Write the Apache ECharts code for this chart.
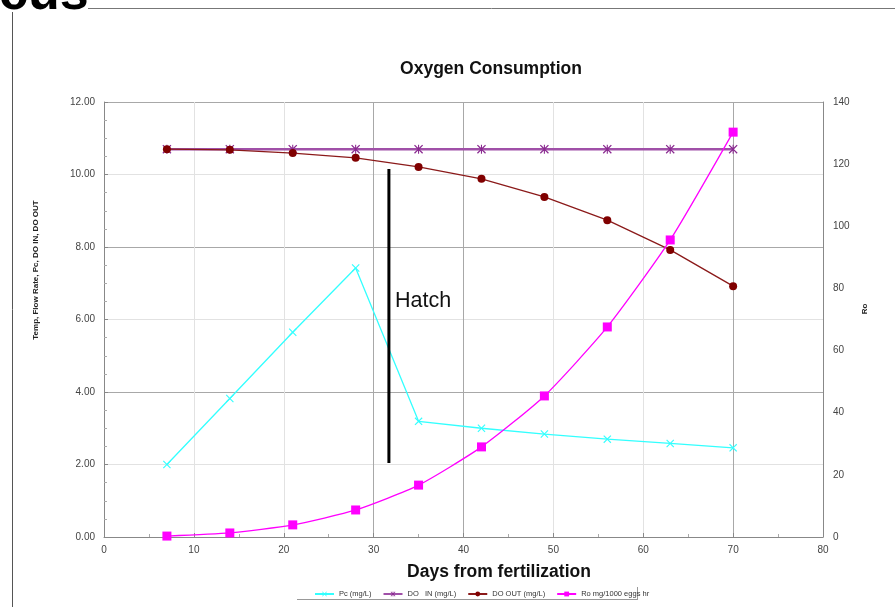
<!DOCTYPE html>
<html>
<head>
<meta charset="utf-8">
<script src="https://cdn.jsdelivr.net/npm/echarts@6/dist/echarts.min.js"></script>
<style>
html,body{margin:0;padding:0;background:#fff;}
#chart{width:895px;height:607px;}
</style>
</head>
<body>
<div id="chart"></div>
<script>
// ---- data ----
var days = [7, 14, 21, 28, 35, 42, 49, 56, 63, 70];
var pc = [2.00, 3.82, 5.65, 7.42, 3.19, 3.00, 2.84, 2.70, 2.58, 2.46];
var doIn = [10.70, 10.70, 10.70, 10.70, 10.70, 10.70, 10.70, 10.70, 10.70, 10.70];
var doOut = [10.70, 10.68, 10.59, 10.46, 10.21, 9.88, 9.38, 8.74, 7.92, 6.92];
var ro = [0.3, 1.3, 3.9, 8.7, 16.7, 29.0, 45.4, 67.6, 95.6, 130.3];
var hatchDay = 31.7;
var hatchRange = [2.04, 10.15];
var seriesNames = ['Pc (mg/L)', 'DO   IN (mg/L)', 'DO OUT (mg/L)', 'Ro mg/1000 eggs hr'];

function pairs(xs, ys) { return xs.map(function (x, i) { return [x, ys[i]]; }); }

var xMark = 'path://M0,1L1,0L5,4L9,0L10,1L6,5L10,9L9,10L5,6L1,10L0,9L4,5Z';
var starMark = 'path://M0,1L1,0L5,4L9,0L10,1L6,5L10,9L9,10L5,6L1,10L0,9L4,5Z M4.4,0L5.6,0L5.6,10L4.4,10Z';

var chart = echarts.init(document.getElementById('chart'), null, {renderer: 'canvas'});
var FF = 'Liberation Sans, Arial, sans-serif';
var lab = {color: '#444', fontSize: 10, fontFamily: FF};

chart.setOption({
  animation: false,
  backgroundColor: '#fff',
  grid: {left: 104, right: 72, top: 102, bottom: 70},
  legend: {
    data: seriesNames,
    left: 309, top: 585,
    itemWidth: 19, itemHeight: 6, itemGap: 11,
    textStyle: {fontSize: 7.5, color: '#333', fontFamily: FF}
  },
  xAxis: {
    type: 'value', min: 0, max: 80, interval: 10,
    axisLine: {lineStyle: {color: '#888'}},
    axisTick: {show: true, inside: true, length: 4, lineStyle: {color: '#888'}},
    minorTick: {show: true, splitNumber: 2, length: 3, lineStyle: {color: '#aaa'}},
    axisLabel: lab,
    splitLine: {show: true, lineStyle: {width: 1, color: ['#aaa', '#e2e2e2', '#e2e2e2', '#a8a8a8', '#a8a8a8', '#e2e2e2', '#e2e2e2', '#a8a8a8', '#a8a8a8']}}
  },
  yAxis: [{
    type: 'value', min: 0, max: 12, interval: 2,
    axisLine: {show: true, lineStyle: {color: '#888'}},
    axisTick: {show: true, inside: true, length: 4, lineStyle: {color: '#888'}},
    minorTick: {show: true, splitNumber: 4, length: 3, lineStyle: {color: '#aaa'}},
    axisLabel: Object.assign({formatter: function (v) { return v.toFixed(2); }, margin: 9}, lab),
    splitLine: {show: true, lineStyle: {width: 1, color: ['#a8a8a8', '#e2e2e2']}}
  }, {
    type: 'value', min: 0, max: 140, interval: 20,
    axisLine: {show: true, lineStyle: {color: '#888'}},
    axisTick: {show: false},
    axisLabel: Object.assign({margin: 10}, lab),
    splitLine: {show: false}
  }],
  series: [{
    name: seriesNames[0], type: 'line', data: pairs(days, pc),
    symbol: xMark, symbolSize: 8,
    lineStyle: {color: '#33ffff', width: 1.3},
    itemStyle: {color: '#33ffff'}
  }, {
    name: seriesNames[1], type: 'line', data: pairs(days, doIn),
    symbol: starMark, symbolSize: 9,
    lineStyle: {color: '#a050a8', width: 2.5},
    itemStyle: {color: '#8a2a90'}
  }, {
    name: seriesNames[2], type: 'line', data: pairs(days, doOut),
    symbol: 'circle', symbolSize: 8,
    lineStyle: {color: '#8b1a1a', width: 1.3},
    itemStyle: {color: '#800000'}
  }, {
    name: seriesNames[3], type: 'line', yAxisIndex: 1, data: pairs(days, ro),
    symbol: 'rect', symbolSize: 9, smooth: 0.2,
    lineStyle: {color: '#ff00ff', width: 1.3},
    itemStyle: {color: '#ff00ff'}
  }, {
    name: 'Hatch', type: 'line', silent: true,
    data: [[hatchDay, hatchRange[0]], [hatchDay, hatchRange[1]]],
    symbol: 'none', lineStyle: {color: '#000', width: 3}
  }],
  graphic: [
    {type: 'text', x: 491, y: 69, style: {text: 'Oxygen Consumption', fontSize: 17.5, fontWeight: 'bold', fill: '#111', fontFamily: FF, align: 'center', verticalAlign: 'middle'}},
    {type: 'text', x: 499, y: 572, style: {text: 'Days from fertilization', fontSize: 17.5, fontWeight: 'bold', fill: '#111', fontFamily: 'Liberation Sans Narrow, Arial Narrow, Liberation Sans, sans-serif', align: 'center', verticalAlign: 'middle'}},
    {type: 'text', x: 36, y: 270, rotation: Math.PI / 2, style: {text: 'Temp, Flow Rate, Pc, DO IN, DO OUT', fontSize: 8, fontWeight: 'bold', fill: '#222', fontFamily: FF, align: 'center', verticalAlign: 'middle'}},
    {type: 'text', x: 865, y: 309, rotation: Math.PI / 2, style: {text: 'Ro', fontSize: 8, fontWeight: 'bold', fill: '#222', fontFamily: FF, align: 'center', verticalAlign: 'middle'}},
    {type: 'text', x: 395, y: 301, style: {text: 'Hatch', fontSize: 21.5, fill: '#111', fontFamily: FF, verticalAlign: 'middle'}},
    {type: 'text', x: -1, y: -31, style: {text: 'cus', fontSize: 52, fontWeight: 'bold', fill: '#000', fontFamily: FF, verticalAlign: 'top'}},
    {type: 'line', shape: {x1: 88, y1: 8.5, x2: 895, y2: 8.5}, style: {stroke: '#777', lineWidth: 1}},
    {type: 'line', shape: {x1: 12.5, y1: 12, x2: 12.5, y2: 607}, style: {stroke: '#555', lineWidth: 1}},
    {type: 'line', shape: {x1: 297, y1: 599.5, x2: 637, y2: 599.5}, style: {stroke: '#999', lineWidth: 1}},
    {type: 'line', shape: {x1: 637.5, y1: 587, x2: 637.5, y2: 600}, style: {stroke: '#999', lineWidth: 1}}
  ]
});
</script>
</body>
</html>
